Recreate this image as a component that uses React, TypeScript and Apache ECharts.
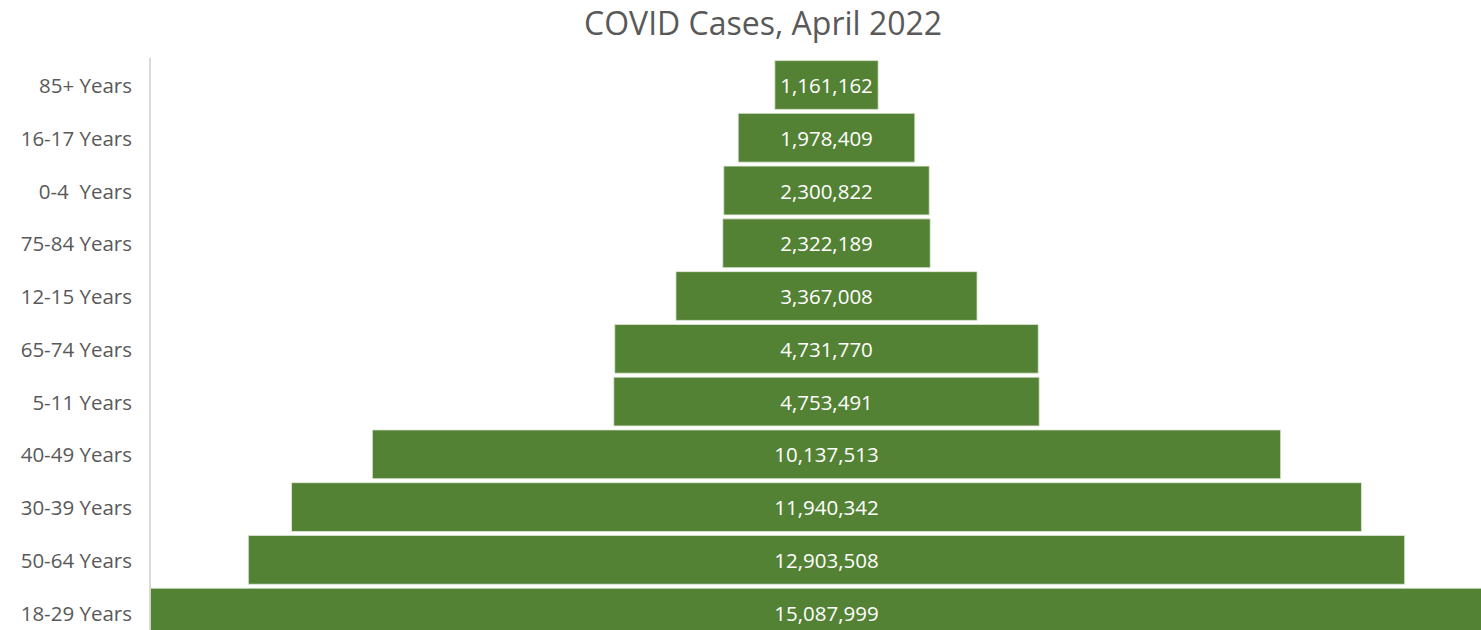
import React, { useEffect, useRef } from "react";
import * as echarts from "echarts";

const categories = [
  "85+ Years",
  "16-17 Years",
  "0-4  Years",
  "75-84 Years",
  "12-15 Years",
  "65-74 Years",
  "5-11 Years",
  "40-49 Years",
  "30-39 Years",
  "50-64 Years",
  "18-29 Years",
];
const cases = [
  1161162, 1978409, 2300822, 2322189, 3367008, 4731770, 4753491, 10137513,
  11940342, 12903508, 15087999,
];
const titleText = "COVID Cases, April 2022";

export default function App() {
  const ref = useRef<HTMLDivElement>(null);
  useEffect(() => {
    if (!ref.current) return;
    const chart = echarts.init(ref.current, null, { renderer: "svg" });
    const maxV = Math.max(...cases);
    const offsets = cases.map((v) => (maxV - v) / 2);
    chart.setOption({
      animation: false,
      textStyle: { fontFamily: "Open Sans" },
      title: {
        text: titleText,
        left: 579,
        top: 1,
        textStyle: { fontSize: 32, fontWeight: "normal", color: "#595959", fontFamily: "Open Sans" },
      },
      grid: { left: 150, right: 0, top: 58.6, bottom: 0, containLabel: false },
      xAxis: { type: "value", min: 0, max: maxV, show: false },
      yAxis: {
        type: "category",
        data: categories,
        inverse: true,
        axisLine: { show: true, lineStyle: { color: "#d9d9d9", width: 2 } },
        axisTick: { show: false },
        axisLabel: { color: "#595959", fontSize: 20.5, margin: 18, fontFamily: "Open Sans" },
      },
      series: [
        {
          type: "bar",
          stack: "f",
          data: offsets,
          itemStyle: { color: "transparent" },
          silent: true,
          barCategoryGap: "6%",
        },
        {
          type: "bar",
          stack: "f",
          data: cases,
          barCategoryGap: "6%",
          itemStyle: { color: "#548235", borderColor: "#e2ead9", borderWidth: 0.8 },
          label: {
            show: true,
            position: "inside",
            color: "#ffffff",
            fontSize: 20.5,
            fontFamily: "Open Sans",
            formatter: (p: any) => Number(p.value).toLocaleString("en-US"),
          },
        },
      ],
    });
    return () => chart.dispose();
  }, []);
  return (
    <div
      ref={ref}
      style={{ position: "fixed", left: 0, top: 0, width: 1503, height: 639, background: "#fff" }}
    />
  );
}
